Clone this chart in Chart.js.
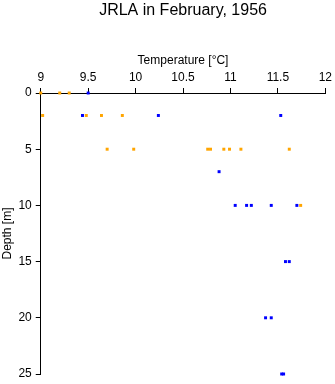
<!DOCTYPE html>
<html>
<head>
<meta charset="utf-8">
<script src="https://cdn.jsdelivr.net/npm/chart.js@4"></script>
<style>
  html, body { margin: 0; padding: 0; background: #fff; }
  #wrap { width: 335px; height: 384px; }
</style>
</head>
<body>
<div id="wrap"><canvas id="profile" width="335" height="384"></canvas></div>
<script>
// temperature (x) and depth (y) per series
var orangeTemp = [9.0, 9.2, 9.3, 9.02, 9.48, 9.64, 9.86, 9.70, 9.98, 10.76, 10.79, 10.93, 10.99, 11.11, 11.62, 11.74];
var orangeDepth = [0, 0, 0, 2, 2, 2, 2, 5, 5, 5, 5, 5, 5, 5, 5, 10];
var blueTemp = [9.5, 9.44, 10.24, 11.53, 10.88, 11.05, 11.17, 11.22, 11.43, 11.70, 11.58, 11.62, 11.37, 11.43, 11.54, 11.56];
var blueDepth = [0, 2, 2, 2, 7, 10, 10, 10, 10, 10, 15, 15, 20, 20, 25, 25];

function toPoints(xs, ys) {
  return xs.map(function (x, i) { return { x: x, y: ys[i] }; });
}

Chart.defaults.font.family = "'Liberation Sans', Arial, sans-serif";
Chart.defaults.color = "#000";

var ctx = document.getElementById("profile").getContext("2d");
var profile = new Chart(ctx, {
  type: "scatter",
  data: {
    datasets: [
      {
        label: "orange",
        data: toPoints(orangeTemp, orangeDepth),
        backgroundColor: "#ffa500",
        pointStyle: "rect",
        pointRadius: 2.1,
        pointBorderWidth: 0,
        clip: false,
      },
      {
        label: "blue",
        data: toPoints(blueTemp, blueDepth),
        backgroundColor: "#0000ff",
        pointStyle: "rect",
        pointRadius: 2.1,
        pointBorderWidth: 0,
        clip: false,
      },
    ],
  },
  options: {
    responsive: false,
    animation: false,
    layout: { padding: { top: 0, right: 8, bottom: 0, left: 0 } },
    plugins: {
      legend: { display: false },
      tooltip: { enabled: false },
      title: {
        display: true,
        text: "JRLA in February, 1956",
        fullSize: false,
        font: { size: 16, weight: "normal" },
        padding: { top: 1, bottom: 33 },
      },
    },
    scales: {
      x: {
        type: "linear",
        position: "top",
        min: 9,
        max: 12,
        ticks: {
          stepSize: 0.5,
          padding: 3,
          font: { size: 12 },
          callback: function (v) { return String(Math.round(v * 10) / 10); },
        },
        grid: { drawOnChartArea: false, drawTicks: true, tickLength: 5, color: "#000" },
        border: { display: true, color: "#000", width: 1 },
        title: { display: true, text: "Temperature [°C]", font: { size: 12 }, padding: { top: 0, bottom: 0 } },
      },
      y: {
        type: "linear",
        reverse: true,
        min: 0,
        max: 25,
        ticks: { stepSize: 5, padding: 4, font: { size: 12, lineHeight: 1 } },
        grid: { drawOnChartArea: false, drawTicks: true, tickLength: 5, color: "#000" },
        border: { display: true, color: "#000", width: 1 },
        title: { display: true, text: "Depth [m]", font: { size: 12 }, padding: { top: 0, bottom: 0 } },
      },
    },
  },
});
</script>
</body>
</html>
